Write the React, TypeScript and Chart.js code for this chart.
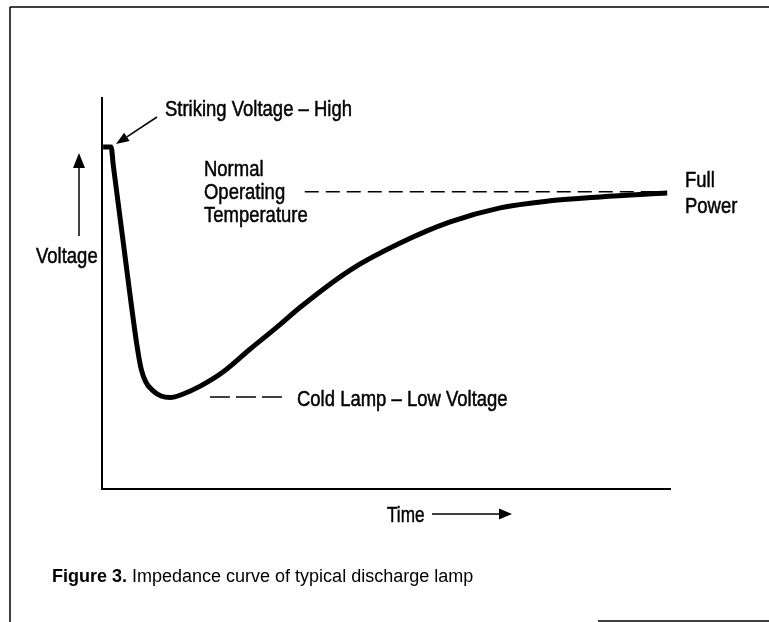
import React, { useEffect, useRef } from "react";
import Chart from "chart.js/auto";

// Time (0..100, arbitrary units) and voltage (0..100, arbitrary units)
const timeValues = [0.2, 1.6, 2.0, 5.1, 6.2, 6.9, 7.7, 9.0, 10.4, 12.0, 14.3, 17.3, 21.3, 26.1, 30.8, 34.9, 43.7, 52.5, 61.3, 70.1, 78.9, 87.7, 99.5];
const voltageValues = [87.5, 87.5, 82.6, 47.8, 36.3, 30.7, 27.4, 25.1, 23.8, 23.4, 24.3, 26.3, 29.9, 35.8, 41.4, 46.5, 56.0, 62.9, 68.3, 71.9, 73.7, 74.7, 75.7];

const normalOpTime = [35.7, 99.5];
const normalOpVoltage = [76.0, 76.0];
const coldLampTime = [19.0, 31.7];
const coldLampVoltage = [23.5, 23.5];

const labelStriking = "Striking Voltage \u2013 High";
const labelNormal = ["Normal", "Operating", "Temperature"];
const labelFull = ["Full", "Power"];
const labelCold = "Cold Lamp \u2013 Low Voltage";
const labelY = "Voltage";
const labelX = "Time";
const captionBold = "Figure 3.";
const captionText = "Impedance curve of typical discharge lamp";

const SANS = '"Liberation Sans", Arial, Helvetica, sans-serif';

const toXY = (xs: number[], ys: number[]) => xs.map((x, i) => ({ x, y: ys[i] }));

const decorPlugin = {
  id: "decor",
  afterDraw(chart: any) {
    const ctx = chart.ctx as CanvasRenderingContext2D;
    ctx.save();
    ctx.strokeStyle = "#000";
    ctx.fillStyle = "#000";
    ctx.lineCap = "butt";

    // page frame
    ctx.lineWidth = 1.5;
    ctx.beginPath();
    ctx.moveTo(10, 7);
    ctx.lineTo(769, 7);
    ctx.moveTo(10, 7);
    ctx.lineTo(10, 622);
    ctx.moveTo(598, 621);
    ctx.lineTo(769, 621);
    ctx.stroke();

    // condensed labels (horizontally compressed sans, slightly heavier)
    const narrow = (t: string, x: number, y: number, sx = 0.84) => {
      ctx.save();
      ctx.translate(x, y);
      ctx.scale(sx, 1);
      ctx.lineWidth = 0.5;
      ctx.fillText(t, 0, 0);
      ctx.strokeText(t, 0, 0);
      ctx.restore();
    };
    ctx.textBaseline = "alphabetic";
    ctx.textAlign = "left";
    ctx.font = `22px ${SANS}`;
    narrow(labelStriking, 165, 116);
    labelNormal.forEach((t, i) => narrow(t, 204, 176 + i * 23));
    labelFull.forEach((t, i) => narrow(t, 685, 187 + i * 26));
    narrow(labelCold, 297, 406);
    narrow(labelY, 36, 263);
    narrow(labelX, 387, 522, 0.78);

    ctx.font = `bold 18px ${SANS}`;
    ctx.fillText(captionBold, 52, 582);
    const w = ctx.measureText(captionBold + " ").width;
    ctx.font = `18px ${SANS}`;
    ctx.fillText(captionText, 52 + w, 582);

    // arrows
    const arrow = (x1: number, y1: number, x2: number, y2: number, len: number, half: number) => {
      const a = Math.atan2(y2 - y1, x2 - x1);
      const bx = x2 - len * Math.cos(a);
      const by = y2 - len * Math.sin(a);
      ctx.lineWidth = 1.5;
      ctx.beginPath();
      ctx.moveTo(x1, y1);
      ctx.lineTo(bx, by);
      ctx.stroke();
      ctx.beginPath();
      ctx.moveTo(x2, y2);
      ctx.lineTo(bx + half * Math.sin(a), by - half * Math.cos(a));
      ctx.lineTo(bx - half * Math.sin(a), by + half * Math.cos(a));
      ctx.closePath();
      ctx.fill();
    };
    arrow(79, 236, 79, 153, 15, 6);
    arrow(432, 514, 512, 514, 13, 5.5);
    arrow(157, 117, 116, 144, 13, 5);

    ctx.restore();
  },
};

export default function App() {
  const ref = useRef<HTMLCanvasElement | null>(null);
  useEffect(() => {
    document.body.style.margin = "0";
    const canvas = ref.current;
    if (!canvas) return;
    const chart = new Chart(canvas, {
      type: "line",
      data: {
        datasets: [
          {
            label: "Voltage",
            data: toXY(timeValues, voltageValues),
            borderColor: "#000",
            borderWidth: 5,
            pointRadius: 0,
            cubicInterpolationMode: "monotone",
            fill: false,
          },
          {
            label: "Normal operating",
            data: toXY(normalOpTime, normalOpVoltage),
            borderColor: "#000",
            borderWidth: 1.5,
            borderDash: [14, 7],
            pointRadius: 0,
            fill: false,
          },
          {
            label: "Cold lamp",
            data: toXY(coldLampTime, coldLampVoltage),
            borderColor: "#000",
            borderWidth: 1.5,
            borderDash: [20, 6],
            pointRadius: 0,
            fill: false,
          },
        ],
      },
      options: {
        animation: false,
        responsive: false,
        maintainAspectRatio: false,
        layout: { padding: { left: 102, right: 99, top: 98, bottom: 133 } },
        plugins: { legend: { display: false }, tooltip: { enabled: false }, title: { display: false } },
        scales: {
          x: {
            type: "linear",
            min: 0,
            max: 100,
            grid: { display: false },
            ticks: { display: false },
            border: { display: true, color: "#000", width: 2 },
            afterFit: (s: any) => {
              s.height = 0;
            },
          },
          y: {
            type: "linear",
            min: 0,
            max: 100,
            grid: { display: false },
            ticks: { display: false },
            border: { display: true, color: "#000", width: 2 },
            afterFit: (s: any) => {
              s.width = 0;
            },
          },
        },
      },
      plugins: [decorPlugin],
    });
    return () => chart.destroy();
  }, []);
  return (
    <div style={{ position: "fixed", left: 0, top: 0, width: 769, height: 622, background: "#fff" }}>
      <canvas ref={ref} width={769} height={622} style={{ width: 769, height: 622, display: "block" }} />
    </div>
  );
}
